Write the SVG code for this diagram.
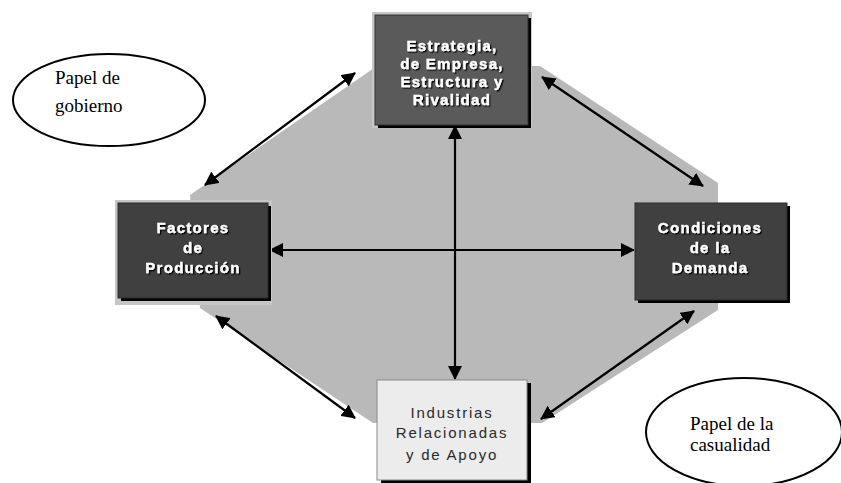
<svg xmlns="http://www.w3.org/2000/svg" width="841" height="483" viewBox="0 0 841 483">
<style>
.bt{font-family:"Liberation Sans",Arial,sans-serif;font-weight:bold;font-size:15px;fill:#ffffff;stroke:#ffffff;stroke-width:0.35;text-anchor:middle;letter-spacing:1.3px;filter:url(#sh)}
.lt{font-family:"Liberation Sans",Arial,sans-serif;font-size:15px;fill:#2a2a2a;text-anchor:middle;letter-spacing:1.8px}
.et{font-family:"Liberation Serif","Times New Roman",serif;font-size:19px;fill:#000000}
.ell{fill:#ffffff;stroke:#000000;stroke-width:2}
.con{stroke:#000000;stroke-width:2.2;fill:none;marker-start:url(#ah);marker-end:url(#ah)}
</style>
<defs>
<marker id="ah" viewBox="0 0 14 14" refX="13" refY="7" markerWidth="14" markerHeight="14" markerUnits="userSpaceOnUse" orient="auto-start-reverse">
<path d="M0,0 L14,7 L0,14 z" fill="#000000"/>
</marker>
<filter id="sh" x="-10%" y="-20%" width="130%" height="150%">
<feDropShadow dx="1.3" dy="1.3" stdDeviation="0.3" flood-color="#000000" flood-opacity="1"/>
</filter>
</defs>
<rect width="841" height="483" fill="#ffffff"/>
<polygon points="377,66 540,66 718,183 718,310 542,423 373,423 200,308 190,195" fill="#b9b9b9"/>

<g id="connectors">
<line class="con" x1="205" y1="185" x2="355" y2="73"/>
<line class="con" x1="542" y1="77" x2="703" y2="186"/>
<line class="con" x1="216" y1="316" x2="355" y2="418"/>
<line class="con" x1="694" y1="311" x2="541" y2="419"/>
<line class="con" x1="455" y1="126" x2="455" y2="379"/>
<line class="con" x1="270" y1="250" x2="634" y2="250"/>
</g>

<g id="node-estrategia">
<rect x="372" y="12" width="160" height="116" fill="#c6c6c6"/>
<rect x="378" y="18" width="153" height="110" fill="#000000"/>
<rect x="375" y="15" width="153" height="110" fill="#5a5a5a" stroke="#333333" stroke-width="1"/>
<text class="bt" x="452" y="51">Estrategia,</text>
<text class="bt" x="452" y="69">de Empresa,</text>
<text class="bt" x="452" y="87">Estructura y</text>
<text class="bt" x="452" y="105">Rivalidad</text>
</g>

<g id="node-factores">
<rect x="115" y="200" width="157" height="105" fill="#c6c6c6"/>
<rect x="121" y="206" width="150" height="95" fill="#000000"/>
<rect x="118" y="203" width="150" height="95" fill="#404040" stroke="#2a2a2a" stroke-width="1"/>
<text class="bt" x="193" y="233">Factores</text>
<text class="bt" x="193" y="253">de</text>
<text class="bt" x="193" y="273">Producción</text>
</g>

<g id="node-condiciones">
<rect x="638" y="206" width="152" height="97" fill="#000000"/>
<rect x="635" y="203" width="152" height="97" fill="#404040" stroke="#2a2a2a" stroke-width="1"/>
<text class="bt" x="710" y="233">Condiciones</text>
<text class="bt" x="710" y="253">de la</text>
<text class="bt" x="710" y="273">Demanda</text>
</g>

<g id="node-industrias">
<rect x="381" y="383" width="150" height="100" fill="#000000"/>
<rect x="377" y="380" width="150" height="100" fill="#ececec" stroke="#8a8a8a" stroke-width="1"/>
<text class="lt" x="452" y="418">Industrias</text>
<text class="lt" x="452" y="438">Relacionadas</text>
<text class="lt" x="452" y="460">y de Apoyo</text>
</g>

<g id="node-gobierno">
<ellipse class="ell" cx="109" cy="100" rx="96" ry="46"/>
<text class="et" x="55" y="84">Papel de</text>
<text class="et" x="55" y="112">gobierno</text>
</g>

<g id="node-casualidad">
<ellipse class="ell" cx="744" cy="432" rx="98" ry="54"/>
<text class="et" x="690" y="430">Papel de la</text>
<text class="et" x="690" y="451">casualidad</text>
</g>
</svg>
